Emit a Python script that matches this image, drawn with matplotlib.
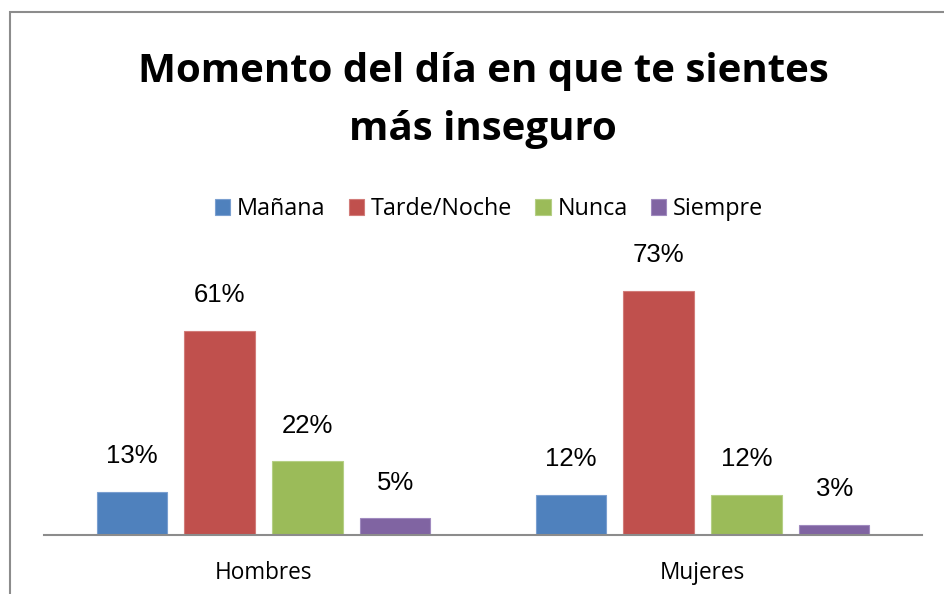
import matplotlib
matplotlib.use("Agg")
import matplotlib.pyplot as plt
import numpy as np
from matplotlib.patches import Rectangle

# Datos
grupos = ["Hombres", "Mujeres"]
series = ["Mañana", "Tarde/Noche", "Nunca", "Siempre"]
valores = [
    [13, 12],   # Mañana
    [61, 73],   # Tarde/Noche
    [22, 12],   # Nunca
    [5, 3],     # Siempre
]
colores = ["#4F81BD", "#C0504D", "#9BBB59", "#8064A2"]
bordes = ["#7A9FD0", "#D27C79", "#B5CF85", "#A08ABF"]

plt.rcParams["font.family"] = ["Open Sans", "DejaVu Sans"]

fig = plt.figure(figsize=(9.44, 5.94), dpi=100)
ax = fig.add_axes([44 / 944, 1 - 535 / 594, 878 / 944, 267.5 / 594])

# Marco del gráfico
fig.patches.append(Rectangle((9.5 / 944, -0.1), 1.2, 1.1 - 11.5 / 594,
                             transform=fig.transFigure, fill=False,
                             edgecolor="#8C8C8C", linewidth=1.5))

x = np.arange(len(grupos))
ancho = 0.16
paso = 0.2
for i, (nombre, vals) in enumerate(zip(series, valores)):
    pos = x + (i - 1.5) * paso
    barras = ax.bar(pos, vals, ancho, color=colores[i], edgecolor=bordes[i],
                    linewidth=0.8, label=nombre)
    for b, v in zip(barras, vals):
        ax.annotate(f"{v}%", (b.get_x() + b.get_width() / 2, v),
                    xytext=(0, 17), textcoords="offset points",
                    ha="center", va="bottom", fontsize=18.5,
                    family=["Liberation Sans", "DejaVu Sans"],
                    annotation_clip=False)

ax.set_xlim(-0.5, 1.5)
ax.set_ylim(0, 80)
for s in ["top", "right", "left"]:
    ax.spines[s].set_visible(False)
ax.spines["bottom"].set_color("#8C8C8C")
ax.spines["bottom"].set_linewidth(1.5)
ax.set_yticks([])
ax.set_xticks(x)
ax.set_xticklabels(grupos, fontsize=16.3)
ax.tick_params(axis="x", length=0, pad=19)

fig.text(483 / 944, 1 - 82 / 594, "Momento del día en que te sientes",
         ha="center", va="baseline", fontsize=29, fontweight="bold")
fig.text(483 / 944, 1 - 140 / 594, "más inseguro",
         ha="center", va="baseline", fontsize=29, fontweight="bold")

fig.legend(loc="center", bbox_to_anchor=(489 / 944, 1 - 209 / 594), ncol=4,
           frameon=False, fontsize=16.8, handlelength=0.65, handleheight=0.65,
           handletextpad=0.3, columnspacing=1.0)

fig.savefig("out.png", dpi=100)
